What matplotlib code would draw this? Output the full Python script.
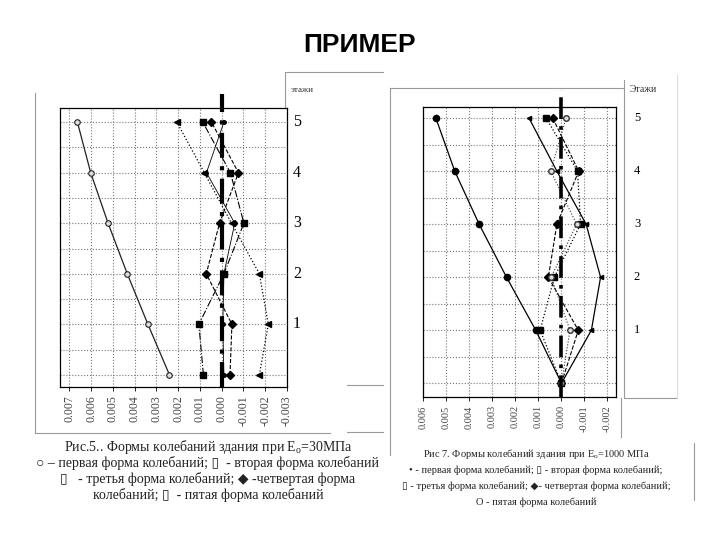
import numpy as np
import matplotlib.pyplot as plt
from matplotlib.lines import Line2D
from matplotlib.transforms import blended_transform_factory

plt.rcParams['font.family'] = ['Liberation Serif', 'DejaVu Sans']

# этажи (0 = уровень фундамента)
floors = [0, 1, 2, 3, 4, 5]
floor_labels = ["1", "2", "3", "4", "5"]

# Рис.5, Eo = 30 МПа
e30_mode1 = [0.0024, 0.00339, 0.00434, 0.00522, 0.00602, 0.00663]
e30_mode2 = [0.00084, 0.00105, -0.0001, -0.00102, -0.0004, 0.00087]
e30_mode3 = [-0.00173, -0.00214, -0.00173, -0.00045, 0.0008, 0.00206]
e30_mode4 = [-0.00038, -0.00047, 0.00071, 0.0001, -0.00077, 0.00047]
e30_mode5 = [-0.0001, -0.00005, -0.0001, -0.0006, 0.0007, -0.0001]
e30_ticks = [0.007, 0.006, 0.005, 0.004, 0.003, 0.002, 0.001, 0.0, -0.001, -0.002, -0.003]

# Рис.7, Eo = 1000 МПа
e1000_mode1 = [0.0, 0.00112, 0.00239, 0.00358, 0.00464, 0.00546]
e1000_mode2 = [0.0, 0.00093, 0.00031, -0.00083, -0.0007, 0.00067]
e1000_mode3 = [0.0, -0.0013, -0.0017, -0.00107, 0.0002, 0.00141]
e1000_mode4 = [0.0, -0.00073, 0.00057, 0.0002, -0.00075, 0.00038]
e1000_mode5 = [0.0, -0.00037, 0.00045, -0.00066, 0.00047, -0.0002]
e1000_ticks = [0.006, 0.005, 0.004, 0.003, 0.002, 0.001, 0.0, -0.001, -0.002]

W, H = 720, 540
fig = plt.figure(figsize=(7.2, 5.4), dpi=100)
fig.patch.set_facecolor("white")


def box(x0, y0, x1, y1):
    # пиксели -> доли фигуры
    return [x0 / W, 1 - y1 / H, (x1 - x0) / W, (y1 - y0) / H]


def fline(xs, ys, color="#9a9a9a", lw=0.8):
    fig.add_artist(Line2D([x / W for x in xs], [1 - y / H for y in ys],
                          color=color, lw=lw, transform=fig.transFigure))


def setup(ax, xlim, ylim, ticks, fs):
    ax.set_xlim(xlim)
    ax.set_ylim(ylim)
    ax.set_xticks(ticks)
    ax.set_xticklabels(["%.3f" % t if t != 0 else "0.000" for t in ticks],
                       rotation=90, fontsize=fs, color="#444444")
    ax.set_yticks(np.arange(0, 5.01, 0.5))
    ax.set_yticklabels([])
    ax.tick_params(axis="y", length=0)
    ax.tick_params(axis="x", length=3, width=0.6, pad=3)
    ax.grid(True, color="#777777", linestyle=":", linewidth=0.8)
    for s in ax.spines.values():
        s.set_linewidth(0.9)


# ---- левый график ----
ax1 = fig.add_axes(box(60, 108, 287, 387))
setup(ax1, (0.00743, -0.00297), (-0.24, 5.28), e30_ticks, 8.5)
ax1.plot(e30_mode1, floors, "-", color="#222222", lw=0.9, marker="o", ms=4,
         mfc="#dddddd", mec="#222222", mew=0.8)
ax1.plot(e30_mode2, floors, "-.", color="black", lw=0.8, marker="s", ms=4.5)
ax1.plot(e30_mode3, floors, ":", color="black", lw=0.9, marker="<", ms=4)
ax1.plot(e30_mode4, floors, "--", color="black", lw=0.8, marker="D", ms=4)
ax1.plot(e30_mode5, floors, "-", color="black", lw=0.6, marker="o", ms=2.5)
ax1.plot([0, 0], [-0.24, 5.56], color="black", lw=3, linestyle=(0, (6, 2, 1, 2)),
         clip_on=False, zorder=5)
tr1 = blended_transform_factory(ax1.transAxes, ax1.transData)
for f, lab in zip(floors[1:], floor_labels):
    ax1.text(1.044, f, lab, transform=tr1, ha="center", va="center", fontsize=11.5)
fig.text(291 / W, 1 - 90 / H, "этажи", fontsize=6.5, color="#333333", va="center")

# ---- правый график ----
ax2 = fig.add_axes(box(423, 107, 616, 397))
setup(ax2, (0.00602, -0.00237), (-0.26, 5.21), e1000_ticks, 7.5)
ax2.plot(e1000_mode1, floors, "-", color="black", lw=0.9, marker="o", ms=4.5)
ax2.plot(e1000_mode2, floors, ":", color="black", lw=0.9, marker="s", ms=4)
ax2.plot(e1000_mode3, floors, "-", color="black", lw=0.9, marker="<", ms=3)
ax2.plot(e1000_mode4, floors, "--", color="black", lw=0.8, marker="D", ms=4)
ax2.plot(e1000_mode5, floors, ":", color="#333333", lw=0.8, marker="o", ms=4,
         mfc="#dddddd", mec="#333333")
ax2.plot([0, 0], [-0.26, 5.54], color="black", lw=2.6, linestyle=(0, (6, 2, 1, 2)),
         clip_on=False, zorder=5)
tr2 = blended_transform_factory(ax2.transAxes, ax2.transData)
for f, lab in zip(floors[1:], floor_labels):
    ax2.text(1.109, f, lab, transform=tr2, ha="center", va="center", fontsize=9)
fig.text(630 / W, 1 - 90 / H, "Этажи", fontsize=7, color="#333333", va="center")

# рамки сканов
fline([35, 35, 330], [93, 433, 433])
fline([347, 383], [432, 432])
fline([285, 285, 383], [107, 72, 72])
fline([347, 383], [385, 385])
fline([390, 624], [88, 88])
fline([390, 390], [88, 455])
fline([624, 624, 677], [80, 398, 398])
fline([677, 677], [75, 398], color="#dddddd")
fline([621, 621], [398, 437])
fline([694, 694], [443, 500])

# заголовок
fig.text(0.5, 1 - 45 / H, "ПРИМЕР", ha="center", va="center", fontsize=19,
         fontweight="bold", family=["Liberation Sans", "DejaVu Sans"])

# подписи
cap1 = [
    "Рис.5.. Формы колебаний здания при E$_\\mathregular{o}$=30МПа",
    "○ – первая форма колебаний; ▯  - вторая форма колебаний",
    "▯   - третья форма колебаний; ◆ -четвертая форма",
    "колебаний; ▯  - пятая форма колебаний",
]
for i, t in enumerate(cap1):
    fig.text(208 / W, 1 - (447 + 16 * i) / H, t, ha="center", va="center",
             fontsize=10, color="#222222")

cap2 = [
    "Рис 7. Формы колебаний здания при E$_\\mathregular{o}$=1000 МПа",
    "• - первая форма колебаний; ▯ - вторая форма колебаний;",
    "▯ - третья форма колебаний; ◆- четвертая форма колебаний;",
    "O - пятая форма колебаний",
]
for i, t in enumerate(cap2):
    fig.text(536 / W, 1 - (454 + 16 * i) / H, t, ha="center", va="center",
             fontsize=7.5, color="#222222")

fig.savefig("out.png", dpi=100)
